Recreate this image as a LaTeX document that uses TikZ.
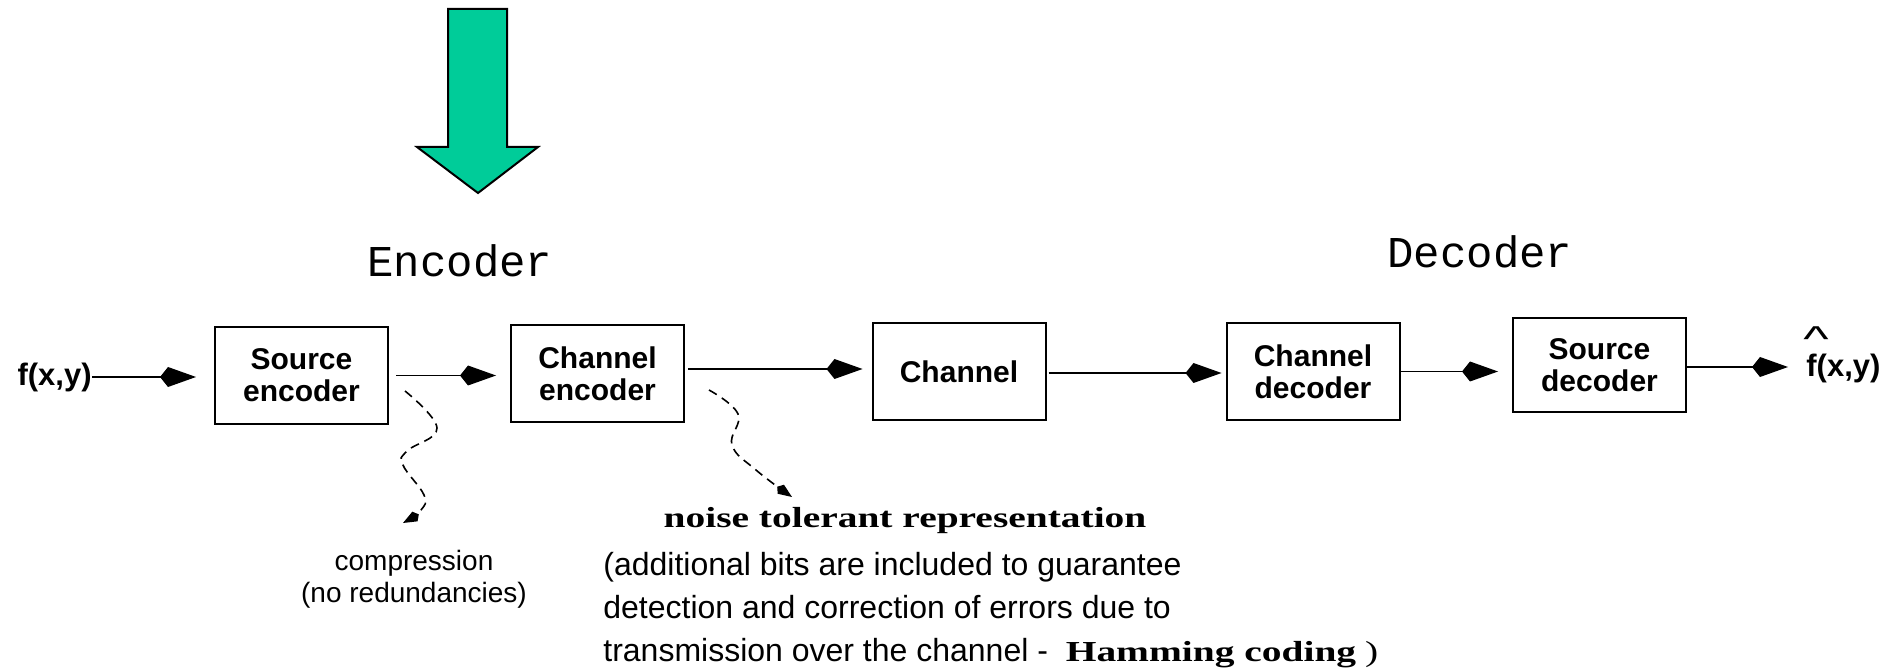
\documentclass[tikz,border=0pt]{standalone}
\usepackage{fontspec}
\usepackage{graphicx}
\setmainfont{Liberation Sans}
\newfontfamily\serifwide[FakeStretch=1.36]{Liberation Serif}
\newfontfamily\monofont{Liberation Mono}
\usetikzlibrary{arrows.meta,calc}
\definecolor{arrowgreen}{RGB}{0,204,153}
\newcommand{\bighat}{\makebox[0pt][l]{\hspace{-1.5pt}\raisebox{12.5pt}[0pt][0pt]{\mdseries\fontsize{18}{18}\selectfont\scalebox{1.5}[1]{\textasciicircum}}}}
\begin{document}
\begin{tikzpicture}[x=0.5pt,y=-0.5pt,
  box/.style={draw, line width=1pt, minimum width=86.5pt, minimum height=48.5pt,
    inner sep=0pt, align=center, font=\fontsize{15}{16}\selectfont\bfseries},
  conn/.style={line width=0.9pt, -{Kite[length=18pt,width=10pt,inset=4pt]}},
  wavy/.style={line width=0.8pt, dash pattern=on 4.5pt off 3pt,
    -{Kite[length=9pt,width=5.5pt,inset=2.2pt]}},
  lbl/.style={inner sep=0pt, font=\fontsize{15.5}{16}\selectfont\bfseries},
  title/.style={inner sep=0pt, font=\monofont\fontsize{22}{24}\selectfont},
  note/.style={inner sep=0pt, anchor=north west, align=left},
  strong/.style={font=\serifwide\bfseries\fontsize{14.5}{16}\selectfont},
]
\useasboundingbox (0,0) rectangle (1903,668);

% big green arrow
\draw[fill=arrowgreen, line width=1pt] (448,9) -- (507,9) -- (507,147) -- (538,147)
  -- (478,193) -- (417,147) -- (448,147) -- cycle;

% titles
\node[title] (enc) at (460,261) {Encoder};
\node[title] (dec) at (1480,252) {Decoder};

% blocks
\node[box] (se) at (301.5,375.5) {Source\\encoder};
\node[box] (ce) at (597.5,373.5) {Channel\\encoder};
\node[box] (ch) at (959,371.5) {Channel};
\node[box] (cd) at (1313,371.5) {Channel\\decoder};
\node[box, minimum height=47pt] (sd) at (1599.5,365) {Source\\decoder};

% input / output
\node[lbl, anchor=east] (fin) at (92,377) {f(x,y)};
\node[lbl, anchor=west] (fout) at (1806,368) {\bighat f(x,y)};

% connectors
\draw[conn, shorten >=9pt] (fin.east) -- (fin.east -| se.west);
\draw[conn, shorten <=3.5pt, shorten >=7pt] (se.east) -- (se.east -| ce.west);
\draw[conn, shorten <=1.5pt, shorten >=4.5pt] ([yshift=2.25pt]ce.east) -- ([yshift=2.25pt]ce.east -| ch.west);
\draw[conn, shorten <=1pt, shorten >=2pt] ([yshift=-0.75pt]ch.east) -- ([yshift=-0.75pt]ch.east -| cd.west);
\draw[conn, shorten >=7pt] (cd.east) -- (cd.east -| sd.west);
\draw[conn, shorten >=9pt] ([yshift=-1pt]sd.east) -- ([yshift=-1pt]sd.east -| fout.west);

% dashed wavy pointers
\coordinate (w1) at ($(se.east)+(16,15.5)$);
\draw[wavy] plot[smooth, tension=0.7] coordinates {(w1) (437,428) (407,451) (403,465) (424,495) (421,510) (403,523)};
\coordinate (w2) at ($(ce.south east)+(24,-33)$);
\draw[wavy] plot[smooth, tension=0.7] coordinates {(w2) (738,414) (732,445) (756,470) (792,497)};

% notes
\node[inner sep=0pt, anchor=north, align=center, font=\fontsize{14}{16}\selectfont] (comp) at (414,550) {compression\\(no redundancies)};
\node[strong, inner sep=0pt, anchor=base] (noise) at (905,528) {noise tolerant representation};
\node[note, font=\fontsize{16}{21.5}\selectfont] (para) at (603,552)
  {(additional bits are included to guarantee\\
   detection and correction of errors due to\\
   transmission over the channel -\ \ {\serifwide\bfseries\fontsize{14.5}{21.5}\selectfont Hamming coding} {\serifwide\fontsize{14.5}{21.5}\selectfont )}};
\end{tikzpicture}
\end{document}
